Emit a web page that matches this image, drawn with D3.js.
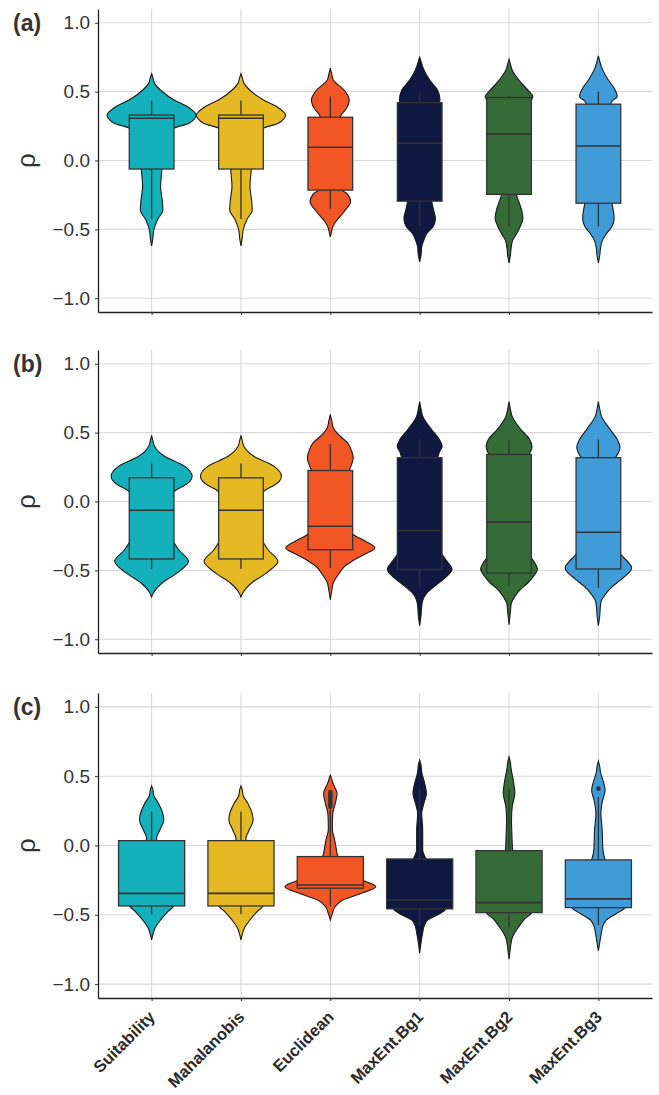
<!DOCTYPE html>
<html lang="en">
<head>
<meta charset="UTF-8">
<title>Violin and box plots of rho</title>
<style>
  body { margin: 0; background: #fff; }
  svg { display: block; font-family: "Liberation Sans", Arial, sans-serif; }
</style>
</head>
<body>
<div id="chart"></div>
<script src="https://cdn.jsdelivr.net/npm/d3@7"></script>
<script>
const categories = ["Suitability", "Mahalanobis", "Euclidean", "MaxEnt.Bg1", "MaxEnt.Bg2", "MaxEnt.Bg3"];
const colors = ["#14b1bc", "#e4b923", "#f15624", "#0e1840", "#356b36", "#3f9cd8"];
const panelLabels = ["(a)", "(b)", "(c)"];
const yTicks = [-1.0, -0.5, 0.0, 0.5, 1.0];

// box stats per method: [lower whisker, q1, median, q3, upper whisker]
const boxA = [
  [-0.425, -0.062, 0.307, 0.33, 0.435],
  [-0.425, -0.062, 0.307, 0.33, 0.435],
  [-0.348, -0.215, 0.096, 0.314, 0.464],
  [-0.474, -0.295, 0.125, 0.42, 0.49],
  [-0.48, -0.246, 0.193, 0.457, 0.47],
  [-0.48, -0.31, 0.105, 0.409, 0.50]
];
const boxB = [
  [-0.49, -0.417, -0.063, 0.172, 0.276],
  [-0.49, -0.417, -0.063, 0.172, 0.276],
  [-0.482, -0.35, -0.18, 0.225, 0.415],
  [-0.62, -0.495, -0.211, 0.318, 0.45],
  [-0.608, -0.52, -0.15, 0.342, 0.444],
  [-0.628, -0.49, -0.223, 0.318, 0.45]
];
const boxC = [
  [-0.496, -0.436, -0.345, 0.035, 0.244],
  [-0.496, -0.436, -0.345, 0.035, 0.244],
  [-0.44, -0.308, -0.285, -0.08, 0.26],
  [-0.578, -0.457, -0.393, -0.097, 0.40],
  [-0.59, -0.484, -0.412, -0.037, 0.41],
  [-0.573, -0.448, -0.385, -0.104, 0.35]
];
const outliersC = [[], [], [0.28, 0.295, 0.31, 0.325, 0.34, 0.355, 0.37, 0.385], [], [], [0.41]];

// violin outlines: [rho, relative density], top tip to bottom tip
const violinA = [
  [[0.63,0],[0.60,0.03],[0.56,0.067],[0.51,0.2],[0.44,0.5],[0.39,0.8],[0.33,0.99],[0.27,0.83],[0.235,0.5],[0.15,0.32],[0.0,0.24],[-0.06,0.23],[-0.19,0.2],[-0.30,0.24],[-0.36,0.25],[-0.43,0.13],[-0.51,0.045],[-0.56,0.03],[-0.62,0]],
  [[0.63,0],[0.60,0.03],[0.56,0.067],[0.51,0.2],[0.44,0.5],[0.39,0.8],[0.33,0.99],[0.27,0.83],[0.235,0.5],[0.15,0.32],[0.0,0.24],[-0.06,0.23],[-0.19,0.2],[-0.30,0.24],[-0.36,0.25],[-0.43,0.13],[-0.51,0.045],[-0.56,0.03],[-0.62,0]],
  [[0.67,0],[0.63,0.03],[0.585,0.067],[0.51,0.31],[0.44,0.42],[0.37,0.34],[0.33,0.24],[0.2,0.16],[0.05,0.13],[-0.1,0.17],[-0.215,0.26],[-0.24,0.37],[-0.30,0.45],[-0.37,0.31],[-0.445,0.12],[-0.49,0.045],[-0.52,0.025],[-0.554,0]],
  [[0.75,0],[0.72,0.03],[0.68,0.067],[0.585,0.22],[0.51,0.4],[0.44,0.45],[0.42,0.44],[0.3,0.3],[0.1,0.2],[-0.1,0.22],[-0.30,0.27],[-0.36,0.31],[-0.42,0.35],[-0.48,0.3],[-0.53,0.16],[-0.58,0.09],[-0.627,0.045],[-0.69,0.03],[-0.736,0]],
  [[0.736,0],[0.70,0.03],[0.66,0.067],[0.56,0.28],[0.50,0.45],[0.464,0.53],[0.44,0.5],[0.3,0.3],[0.1,0.2],[-0.1,0.17],[-0.246,0.17],[-0.30,0.22],[-0.36,0.28],[-0.42,0.31],[-0.47,0.26],[-0.53,0.17],[-0.58,0.08],[-0.64,0.045],[-0.69,0.03],[-0.743,0]],
  [[0.76,0],[0.72,0.03],[0.68,0.067],[0.585,0.22],[0.52,0.36],[0.464,0.42],[0.43,0.3],[0.40,0.26],[0.3,0.2],[0.1,0.17],[-0.1,0.2],[-0.31,0.3],[-0.36,0.33],[-0.42,0.35],[-0.48,0.3],[-0.53,0.18],[-0.58,0.09],[-0.64,0.045],[-0.69,0.03],[-0.743,0]]
];
const violinB = [
  [[0.48,0],[0.44,0.03],[0.40,0.067],[0.33,0.28],[0.257,0.73],[0.184,0.9],[0.11,0.7],[0.087,0.56],[0.0,0.35],[-0.1,0.3],[-0.2,0.35],[-0.3,0.5],[-0.35,0.6],[-0.434,0.82],[-0.52,0.56],[-0.59,0.24],[-0.64,0.09],[-0.67,0.03],[-0.693,0]],
  [[0.48,0],[0.44,0.03],[0.40,0.067],[0.33,0.28],[0.257,0.73],[0.184,0.9],[0.11,0.7],[0.087,0.56],[0.0,0.35],[-0.1,0.3],[-0.2,0.35],[-0.3,0.5],[-0.35,0.6],[-0.434,0.82],[-0.52,0.56],[-0.59,0.24],[-0.64,0.09],[-0.67,0.03],[-0.693,0]],
  [[0.633,0],[0.59,0.03],[0.536,0.067],[0.48,0.2],[0.427,0.38],[0.36,0.48],[0.318,0.51],[0.25,0.45],[0.225,0.42],[0.1,0.3],[0.0,0.28],[-0.1,0.33],[-0.18,0.42],[-0.236,0.5],[-0.29,0.79],[-0.337,0.99],[-0.383,0.76],[-0.43,0.5],[-0.47,0.32],[-0.52,0.2],[-0.59,0.067],[-0.65,0.03],[-0.713,0]],
  [[0.725,0],[0.67,0.03],[0.62,0.067],[0.524,0.26],[0.45,0.44],[0.40,0.5],[0.36,0.44],[0.318,0.4],[0.2,0.3],[0.0,0.25],[-0.2,0.3],[-0.385,0.5],[-0.44,0.62],[-0.49,0.72],[-0.567,0.52],[-0.615,0.33],[-0.664,0.16],[-0.72,0.067],[-0.76,0.045],[-0.83,0.03],[-0.902,0]],
  [[0.725,0],[0.67,0.03],[0.62,0.067],[0.524,0.26],[0.45,0.46],[0.40,0.51],[0.342,0.45],[0.2,0.3],[0.0,0.25],[-0.2,0.3],[-0.41,0.5],[-0.45,0.58],[-0.49,0.63],[-0.54,0.55],[-0.59,0.42],[-0.64,0.25],[-0.69,0.13],[-0.74,0.05],[-0.80,0.03],[-0.895,0]],
  [[0.725,0],[0.67,0.03],[0.62,0.067],[0.524,0.26],[0.45,0.42],[0.39,0.48],[0.35,0.44],[0.318,0.38],[0.2,0.3],[0.0,0.25],[-0.2,0.3],[-0.385,0.5],[-0.44,0.66],[-0.482,0.74],[-0.567,0.5],[-0.615,0.32],[-0.664,0.18],[-0.72,0.067],[-0.76,0.045],[-0.83,0.03],[-0.902,0]]
];
const violinC = [
  [[0.43,0],[0.40,0.03],[0.364,0.045],[0.30,0.16],[0.24,0.24],[0.184,0.27],[0.11,0.18],[0.052,0.11],[0.0,0.12],[-0.1,0.25],[-0.25,0.45],[-0.35,0.55],[-0.436,0.49],[-0.48,0.35],[-0.537,0.2],[-0.59,0.085],[-0.64,0.03],[-0.68,0]],
  [[0.43,0],[0.40,0.03],[0.364,0.045],[0.30,0.16],[0.24,0.24],[0.184,0.27],[0.11,0.18],[0.052,0.11],[0.0,0.12],[-0.1,0.25],[-0.25,0.45],[-0.35,0.55],[-0.436,0.49],[-0.48,0.35],[-0.537,0.2],[-0.59,0.085],[-0.64,0.03],[-0.68,0]],
  [[0.508,0],[0.48,0.03],[0.46,0.045],[0.42,0.1],[0.376,0.15],[0.316,0.12],[0.232,0.055],[0.15,0.045],[0.112,0.045],[0.05,0.09],[0.0,0.12],[-0.08,0.17],[-0.18,0.4],[-0.25,0.72],[-0.297,1.01],[-0.345,0.69],[-0.393,0.28],[-0.44,0.11],[-0.49,0.045],[-0.537,0]],
  [[0.616,0],[0.58,0.03],[0.53,0.045],[0.45,0.11],[0.376,0.15],[0.30,0.09],[0.232,0.045],[0.112,0.067],[-0.03,0.067],[-0.1,0.15],[-0.2,0.35],[-0.35,0.55],[-0.457,0.58],[-0.50,0.4],[-0.537,0.18],[-0.58,0.1],[-0.63,0.067],[-0.70,0.03],[-0.776,0]],
  [[0.64,0],[0.60,0.03],[0.556,0.045],[0.46,0.1],[0.376,0.13],[0.28,0.07],[0.184,0.055],[0.05,0.067],[-0.037,0.08],[-0.15,0.2],[-0.3,0.4],[-0.42,0.5],[-0.484,0.5],[-0.53,0.35],[-0.585,0.22],[-0.633,0.12],[-0.669,0.067],[-0.74,0.03],[-0.82,0]],
  [[0.609,0],[0.57,0.03],[0.53,0.045],[0.46,0.11],[0.40,0.15],[0.32,0.09],[0.232,0.055],[0.112,0.085],[-0.03,0.1],[-0.104,0.15],[-0.2,0.3],[-0.35,0.55],[-0.448,0.59],[-0.49,0.4],[-0.537,0.18],[-0.58,0.1],[-0.63,0.067],[-0.70,0.03],[-0.758,0]]
];

const width = 659;
const height = 1095;
const margin = { left: 98, right: 7 };
const panelTop = [9, 350, 693];
const panelHeight = [303, 303, 305];
const boxFrac = [0.5, 0.5, 0.74];   // box width as share of the category step

const panels = [
  { label: panelLabels[0], box: boxA, violin: violinA, outliers: categories.map(() => []) },
  { label: panelLabels[1], box: boxB, violin: violinB, outliers: categories.map(() => []) },
  { label: panelLabels[2], box: boxC, violin: violinC, outliers: outliersC }
];

const svg = d3.select('#chart')
  .append('svg')
  .attr('width', width)
  .attr('height', height);

const x = d3.scalePoint()
  .domain(categories)
  .range([margin.left, width - margin.right])
  .padding(0.6);

// half-width of a violin for a relative density of 1
const w = d3.scaleLinear().domain([0, 1]).range([0, 45]);

panels.forEach((p, pi) => {
  const top = panelTop[pi];
  const bottom = top + panelHeight[pi];
  const y = d3.scaleLinear().domain([-1.1, 1.1]).range([bottom, top]);
  const g = svg.append('g');
  const halfBox = x.step() * boxFrac[pi] / 2;

  // grid
  g.append('g').selectAll('line')
    .data(yTicks)
    .join('line')
    .attr('x1', margin.left).attr('x2', width - margin.right)
    .attr('y1', d => y(d)).attr('y2', d => y(d))
    .attr('stroke', '#d9d9d9').attr('stroke-width', 1.1);
  g.append('g').selectAll('line')
    .data(categories)
    .join('line')
    .attr('x1', d => x(d)).attr('x2', d => x(d))
    .attr('y1', top).attr('y2', bottom)
    .attr('stroke', '#d9d9d9').attr('stroke-width', 1.1);

  // violins
  const area = d3.area()
    .curve(d3.curveMonotoneY)
    .y(d => y(d[0]))
    .x0(d => -w(d[1]))
    .x1(d => w(d[1]));

  g.append('g').selectAll('path')
    .data(p.violin)
    .join('path')
    .attr('transform', (d, i) => `translate(${x(categories[i])},0)`)
    .attr('d', area)
    .attr('fill', (d, i) => colors[i])
    .attr('stroke', '#1a1a1a')
    .attr('stroke-width', 1.1);

  // boxes
  const boxes = g.append('g').selectAll('g')
    .data(p.box)
    .join('g')
    .attr('transform', (d, i) => `translate(${x(categories[i])},0)`);

  boxes.append('line')
    .attr('y1', d => y(d[3])).attr('y2', d => y(d[4]))
    .attr('stroke', '#333').attr('stroke-width', 1.3);
  boxes.append('line')
    .attr('y1', d => y(d[0])).attr('y2', d => y(d[1]))
    .attr('stroke', '#333').attr('stroke-width', 1.3);
  boxes.append('rect')
    .attr('x', -halfBox)
    .attr('width', halfBox * 2)
    .attr('y', d => y(d[3]))
    .attr('height', d => y(d[1]) - y(d[3]))
    .attr('fill', (d, i) => colors[i])
    .attr('stroke', '#333')
    .attr('stroke-width', 1.3);
  boxes.append('line')
    .attr('x1', -halfBox).attr('x2', halfBox)
    .attr('y1', d => y(d[2])).attr('y2', d => y(d[2]))
    .attr('stroke', '#333').attr('stroke-width', 1.6);

  boxes.selectAll('circle')
    .data((d, i) => p.outliers[i])
    .join('circle')
    .attr('cy', d => y(d))
    .attr('r', 2.3)
    .attr('fill', '#333');

  // axes
  const yAxis = g.append('g')
    .attr('transform', `translate(${margin.left},0)`)
    .call(d3.axisLeft(y).tickValues(yTicks).tickFormat(d3.format('.1f')).tickSize(3).tickSizeOuter(0).tickPadding(5));
  yAxis.select('.domain').attr('stroke', '#222').attr('stroke-width', 1.3);
  yAxis.selectAll('.tick line').attr('stroke', '#333');
  yAxis.selectAll('.tick text')
    .attr('font-size', 19)
    .attr('font-family', '"Liberation Sans", Arial, sans-serif')
    .attr('fill', '#333');

  const xAxis = g.append('g')
    .attr('transform', `translate(0,${bottom})`)
    .call(d3.axisBottom(x).tickSize(3).tickSizeOuter(0).tickFormat(pi === 2 ? null : ''));
  xAxis.select('.domain').attr('stroke', '#222').attr('stroke-width', 1.3);
  xAxis.selectAll('.tick line').attr('stroke', '#333');
  xAxis.selectAll('.tick text')
    .attr('font-size', 16.5)
    .attr('font-weight', 'bold')
    .attr('font-family', '"Liberation Sans", Arial, sans-serif')
    .attr('fill', '#2b2b2b')
    .attr('text-anchor', 'end')
    .attr('y', 0).attr('dy', 0)
    .attr('transform', 'translate(4,20) rotate(-45)');

  // y label and panel tag
  g.append('text')
    .attr('transform', `translate(35,${(top + bottom) / 2}) rotate(-90)`)
    .attr('text-anchor', 'middle')
    .attr('font-size', 26)
    .attr('fill', '#333')
    .text('ρ');

  g.append('text')
    .attr('x', 13)
    .attr('y', y(1.0))
    .attr('dy', '0.35em')
    .attr('font-size', 23)
    .attr('font-weight', 'bold')
    .attr('fill', '#333')
    .text(p.label);
});
</script>
</body>
</html>
